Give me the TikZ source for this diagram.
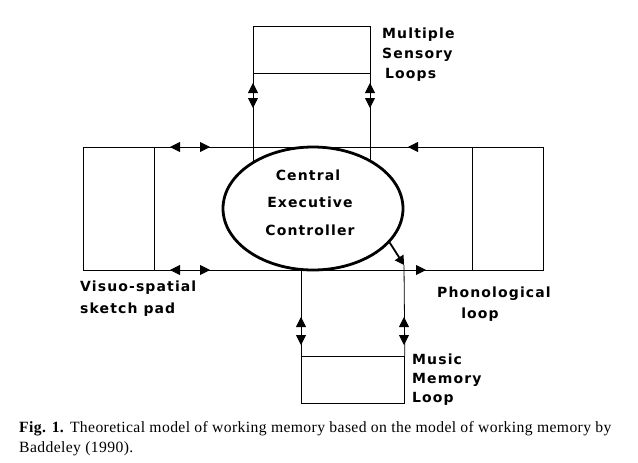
\documentclass[tikz,border=0pt]{standalone}
\usepackage{fontspec}
\setmainfont{Liberation Serif}
\newfontfamily\labfont{DejaVu Sans}[UprightFont=* Bold,LetterSpace=8]
\newfontfamily\capfont{Liberation Serif}[LetterSpace=2.5]
\usetikzlibrary{arrows.meta,shapes.geometric,calc}
\begin{document}
\begin{tikzpicture}[x=1pt,y=-1pt,
  thin line/.style={line width=0.8pt},
  box/.style={draw,thin line,inner sep=0pt,anchor=north west},
  marker/.style={thin line,-{Triangle[length=10pt,width=10pt]}},
  lblfont/.style={font=\labfont\fontsize{14}{20}\selectfont},
  lbl/.style={inner sep=0pt,anchor=base west,lblfont},
  captext/.style={inner sep=0pt,anchor=base west,font=\capfont\fontsize{15.65}{19}\selectfont}]
\useasboundingbox (0,0) rectangle (638,463);
% boxes
\node[box,minimum width=117pt,minimum height=47pt] (top) at (253,26) {};
\node[box,minimum width=71pt,minimum height=123pt] (left) at (83,147) {};
\node[box,minimum width=71pt,minimum height=123pt] (right) at (472,147) {};
\node[box,minimum width=103pt,minimum height=47pt] (music) at (301,356) {};
% central executive
\node[ellipse,draw,line width=2.8pt,minimum width=180pt,minimum height=123pt,inner sep=0pt] (ce) at (313,208.5) {};
\node[inner sep=0pt,anchor=base,lblfont] (ce1) at (308,180) {Central};
\node[inner sep=0pt,anchor=base,lblfont] (ce2) at (310,207) {Executive};
\node[inner sep=0pt,anchor=base,lblfont] (ce3) at (310,235) {Controller};
% horizontal connectors
\draw[thin line] (left.north east) -- (right.north west);
\draw[thin line] (left.south east) -- (right.south west);
% vertical connectors
\draw[thin line] (top.south west) -- (top.south west |- ce.142.5);
\draw[thin line] (top.south east) -- (top.south east |- ce.40);
\draw[thin line] (music.north west |- ce.south) -- (music.north west);
\coordinate (mt) at (404,265);
\draw[line width=1.8pt,-{Triangle[length=9pt,width=10pt]}] (ce.-24) -- (mt);
\draw[thin line] (mt) -- (music.north east);
% markers on horizontal lines
\draw[marker] (181,147) -- (170,147);
\draw[marker] (199,147) -- (210,147);
\draw[marker] (181,270) -- (170,270);
\draw[marker] (199,270) -- (210,270);
\draw[marker] (420,147) -- (408,147);
\draw[marker] (415,270) -- (426,270);
% markers on vertical lines
\foreach \x in {253,370}{
  \draw[marker] (\x,93) -- (\x,83);
  \draw[marker] (\x,98) -- (\x,108);
}
\foreach \x in {301,404}{
  \draw[marker] (\x,327) -- (\x,317);
  \draw[marker] (\x,335) -- (\x,345);
}
% labels
\node[lbl] (ms1) at (382,38) {Multiple};
\node[lbl] (ms2) at (382,58) {Sensory};
\node[lbl] (ms3) at (385,78) {Loops};
\node[lbl] (vs1) at (80,291.5) {Visuo-spatial};
\node[lbl] (vs2) at (80,313.5) {sketch pad};
\node[lbl] (ph1) at (437,297.5) {Phonological};
\node[lbl,anchor=base] (ph2) at (480,318) {loop};
\node[lbl] (mm1) at (412,364) {Music};
\node[lbl] (mm2) at (412,383) {Memory};
\node[lbl] (mm3) at (412,402.5) {Loop};
% caption
\node[captext] (c1) at (19,432.7) {\textbf{Fig. 1.} Theoretical model of working memory based on the model of working memory by};
\node[captext] (c2) at (19,452) {Baddeley (1990).};
\end{tikzpicture}
\end{document}
